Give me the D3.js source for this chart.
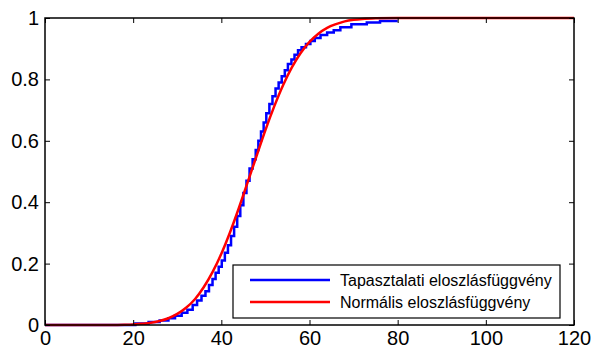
<!DOCTYPE html>
<html>
<head>
<meta charset="utf-8">
<script src="https://cdn.jsdelivr.net/npm/d3@7"></script>
<style>
  body { margin: 0; background: #fff; }
  text { font-family: "Liberation Sans", Arial, sans-serif; }
</style>
</head>
<body>
<div id="chart"></div>
<script>
// empirical CDF: jump positions and level after each jump
const ecdfX = [0, 20.5, 23.5, 26, 28, 29.5, 31, 32.3, 33.5, 34.5, 35.5, 36.4, 37.2, 38, 38.7, 39.4,
  40.1, 40.8, 41.5, 42.2, 42.9, 43.6, 44.3, 45, 45.7, 46.4, 47.1, 47.8, 48.4, 49, 49.6, 50.2,
  50.9, 51.6, 52.3, 53, 53.7, 54.4, 55.1, 55.9, 56.6, 57.4, 58.2, 59.2, 60.2, 61.2, 62.5, 64,
  65.5, 67, 69.5, 73, 76, 80];
const ecdfY = [0, 0.005, 0.01, 0.015, 0.022, 0.03, 0.04, 0.05, 0.065, 0.08, 0.095, 0.11, 0.13, 0.15, 0.17, 0.19,
  0.21, 0.235, 0.26, 0.29, 0.32, 0.355, 0.39, 0.43, 0.47, 0.51, 0.54, 0.57, 0.60, 0.63, 0.66, 0.69,
  0.72, 0.745, 0.77, 0.79, 0.81, 0.83, 0.85, 0.865, 0.88, 0.895, 0.905, 0.915, 0.925, 0.935, 0.945, 0.953,
  0.96, 0.97, 0.98, 0.985, 0.99, 0.99];

// fitted normal CDF
const normX = [0, 15, 18, 20, 22, 24, 26, 28, 30, 32, 34, 36, 38, 40, 42, 44, 46, 48, 50, 52, 54,
  56, 58, 60, 62, 64, 66, 68, 70, 72, 75, 80, 90, 120];
const normY = [0, 0.0003, 0.001, 0.002, 0.004, 0.007, 0.013, 0.022, 0.036, 0.056, 0.084, 0.123, 0.172, 0.232,
  0.303, 0.382, 0.466, 0.551, 0.635, 0.712, 0.781, 0.839, 0.886, 0.922, 0.949, 0.968, 0.98, 0.989,
  0.994, 0.997, 0.999, 1, 1, 1];

const xTicks = [0, 20, 40, 60, 80, 100, 120];
const yTicks = [0, 0.2, 0.4, 0.6, 0.8, 1];
const legendLabels = ["Tapasztalati eloszlásfüggvény", "Normális eloszlásfüggvény"];
const colors = ["#0000ff", "#ff0000"];

const W = 594, H = 350;
const margin = { top: 18, right: 20, bottom: 25, left: 45 };
const width = W - margin.left - margin.right;
const height = H - margin.top - margin.bottom;

const svg = d3.select("#chart").append("svg")
  .attr("width", W).attr("height", H);
const g = svg.append("g").attr("transform", `translate(${margin.left},${margin.top})`);

const x = d3.scaleLinear().domain([0, 120]).range([0, width]);
const y = d3.scaleLinear().domain([0, 1]).range([height, 0]);

// curves
const ecdf = ecdfX.map((d, i) => [d, ecdfY[i]]);
const norm = normX.map((d, i) => [d, normY[i]]);

g.append("path")
  .datum(ecdf)
  .attr("fill", "none")
  .attr("stroke", colors[0])
  .attr("stroke-width", 2.5)
  .attr("d", d3.line().x(d => x(d[0])).y(d => y(d[1])).curve(d3.curveStepAfter));

g.append("path")
  .datum(norm)
  .attr("fill", "none")
  .attr("stroke", colors[1])
  .attr("stroke-width", 2.5)
  .attr("d", d3.line().x(d => x(d[0])).y(d => y(d[1])).curve(d3.curveMonotoneX));

// axes, ticks pointing inward on all four sides
const fmt = d3.format("");
const styleAxis = (sel) => {
  sel.select(".domain").remove();
  sel.selectAll("line").attr("stroke", "#000");
  sel.selectAll("text").style("font-size", "20px").attr("fill", "#000");
};

g.append("g").attr("transform", `translate(0,${height})`)
  .call(d3.axisBottom(x).tickValues(xTicks).tickFormat(fmt).tickSizeInner(-5).tickSizeOuter(0).tickPadding(6))
  .call(styleAxis);
g.append("g")
  .call(d3.axisTop(x).tickValues(xTicks).tickFormat("").tickSizeInner(-5).tickSizeOuter(0))
  .call(styleAxis);
g.append("g")
  .call(d3.axisLeft(y).tickValues(yTicks).tickFormat(fmt).tickSizeInner(-5).tickSizeOuter(0).tickPadding(6))
  .call(styleAxis);
g.append("g").attr("transform", `translate(${width},0)`)
  .call(d3.axisRight(y).tickValues(yTicks).tickFormat("").tickSizeInner(-5).tickSizeOuter(0))
  .call(styleAxis);

g.append("rect")
  .attr("width", width).attr("height", height)
  .attr("fill", "none").attr("stroke", "#000").attr("stroke-width", 1.5);

// legend
const legend = g.append("g").attr("transform", `translate(${233 - margin.left},${265 - margin.top})`);
legend.append("rect")
  .attr("width", 327).attr("height", 53)
  .attr("fill", "#fff").attr("stroke", "#000").attr("stroke-width", 1.2);

legendLabels.forEach((label, i) => {
  const yy = 15 + i * 22;
  legend.append("line")
    .attr("x1", 17).attr("x2", 97).attr("y1", yy).attr("y2", yy)
    .attr("stroke", colors[i]).attr("stroke-width", 2.5);
  legend.append("text")
    .attr("x", 107).attr("y", yy + 5.5)
    .style("font-size", "16px")
    .text(label);
});
</script>
</body>
</html>
